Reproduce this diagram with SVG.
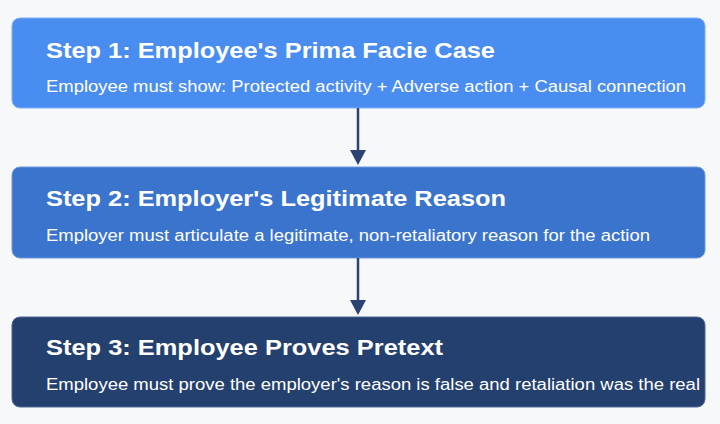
<svg xmlns="http://www.w3.org/2000/svg" width="720" height="424" viewBox="0 0 720 424">
<style>
.t{font-family:"Liberation Sans",Arial,sans-serif;font-weight:bold;font-size:22px;fill:#fff}
.s{font-family:"Liberation Sans",Arial,sans-serif;font-size:16px;fill:#fff}
.c{stroke:#2b4372;stroke-width:2.5;fill:none}
</style>
<rect width="720" height="424" fill="#f7f8fa"/>
<g id="n1"><rect x="12" y="18" width="693" height="90" rx="8" fill="#4a8df0" stroke="#7fb0f3"/>
<text class="t" x="46" y="58" textLength="449" lengthAdjust="spacingAndGlyphs">Step 1: Employee's Prima Facie Case</text>
<text class="s" x="46" y="92" textLength="640" lengthAdjust="spacingAndGlyphs">Employee must show: Protected activity + Adverse action + Causal connection</text></g>
<g id="n2"><rect x="12" y="167" width="693" height="91" rx="8" fill="#3b74cd" stroke="#6d98dc"/>
<text class="t" x="46" y="206" textLength="460" lengthAdjust="spacingAndGlyphs">Step 2: Employer's Legitimate Reason</text>
<text class="s" x="46" y="241" textLength="604" lengthAdjust="spacingAndGlyphs">Employer must articulate a legitimate, non-retaliatory reason for the action</text></g>
<g id="n3"><rect x="12" y="317" width="693" height="90" rx="8" fill="#24406f" stroke="#4d6796"/>
<text class="t" x="46" y="355" textLength="397" lengthAdjust="spacingAndGlyphs">Step 3: Employee Proves Pretext</text>
<text class="s" x="46" y="390" textLength="654" lengthAdjust="spacingAndGlyphs">Employee must prove the employer's reason is false and retaliation was the real</text></g>
<g id="connectors">
<line class="c" x1="358" y1="108" x2="358" y2="150"/><path d="M350,150L366,150L358,165z" fill="#2b4372"/>
<line class="c" x1="358" y1="258" x2="358" y2="300"/><path d="M350,300L366,300L358,315z" fill="#2b4372"/>
</g>
</svg>
